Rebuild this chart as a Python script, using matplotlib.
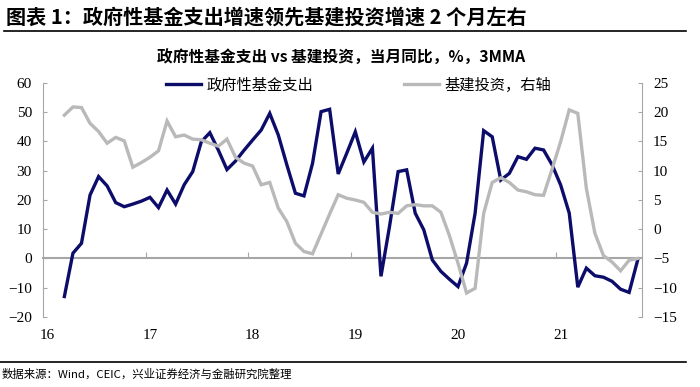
import numpy as np
import matplotlib
matplotlib.use("Agg")
import matplotlib.pyplot as plt
from matplotlib.lines import Line2D

plt.rcParams['font.family'] = ['Noto Sans CJK SC', 'DejaVu Sans']

# 月份序号: 0 = 2016年1月, 数据从2016年3月到2021年10月 (3MMA)
start_month = 2
year_labels = ['16', '17', '18', '19', '20', '21']

# 政府性基金支出 当月同比 3MMA (%)，左轴
fund = [-13.0, 1.8, 5.2, 21.7, 28.0, 24.8, 19.1, 17.7, 18.6, 19.6,
        20.9, 17.4, 23.4, 18.6, 25.2, 29.7, 39.9, 43.0, 37.0, 30.4,
        33.3, 37.0, 40.5, 43.9, 49.6, 42.2, 32.0, 22.3, 21.4, 32.5,
        50.2, 51.0, 28.9, 36.0, 43.3, 33.0, 37.7, -6.1, 11.0, 29.7,
        30.3, 15.5, 9.8, -0.5, -4.4, -7.1, -9.6, -1.6, 15.5, 43.7,
        41.6, 26.8, 29.1, 34.8, 33.9, 37.7, 37.1, 32.0, 25.1, 15.5,
        -9.8, -3.3, -5.9, -6.4, -7.8, -10.5, -11.6, -0.5]

# 基建投资 当月同比 3MMA (%)，右轴
infra = [19.5, 20.9, 20.8, 18.1, 16.7, 14.7, 15.7, 15.1, 10.6, 11.4,
         12.3, 13.4, 18.5, 15.8, 16.1, 15.4, 15.3, 14.7, 14.2, 15.4,
         12.3, 11.3, 10.8, 7.6, 8.0, 3.6, 1.3, -2.4, -3.8, -4.2,
         -0.8, 2.6, 5.9, 5.3, 5.0, 4.6, 2.9, 2.6, 2.9, 2.7,
         4.0, 4.2, 4.0, 4.0, 2.9, -1.1, -5.8, -10.9, -10.1, 2.7,
         8.0, 8.8, 8.0, 6.7, 6.4, 5.9, 5.8, 10.3, 15.0, 20.4,
         19.8, 7.0, -0.7, -4.5, -5.6, -7.1, -5.3, -5.0]

x = np.arange(len(fund)) + start_month + 0.5
year_pos = np.arange(len(year_labels)) * 12

GRAY_AX = '#a6a6a6'
NAVY = '#0c0c6a'
LGRAY = '#b9b9b9'

fig = plt.figure(figsize=(7, 3.87), dpi=100)
ax = fig.add_axes([0.0614, 0.1809, 0.8557, 0.6047])
ax2 = ax.twinx()

h1, = ax.plot(x, fund, color=NAVY, lw=2.4, solid_joinstyle='miter')
h2, = ax2.plot(x, infra, color=LGRAY, lw=2.4, solid_joinstyle='miter')

ax.set_xlim(0, 70)
ax.set_ylim(-20, 60)
ax.set_yticks(range(-20, 61, 10))
ax2.set_ylim(-15, 25)
ax2.set_yticks(range(-15, 26, 5))

for a in (ax, ax2):
    a.spines['top'].set_visible(False)
    a.spines['bottom'].set_visible(False)
ax.spines['right'].set_visible(False)
ax2.spines['left'].set_visible(False)
ax.spines['left'].set_color(GRAY_AX)
ax2.spines['right'].set_color(GRAY_AX)

ax.tick_params(axis='y', direction='in', length=3, color=GRAY_AX, labelsize=11, pad=8)
ax2.tick_params(axis='y', direction='in', length=3, color=GRAY_AX, labelsize=11, pad=8)
ax.set_xticks(year_pos + 0.5, year_labels)
ax.tick_params(axis='x', length=0, labelsize=11, pad=9)

for lbl in ax.get_xticklabels() + ax.get_yticklabels() + ax2.get_yticklabels():
    lbl.set_fontfamily('Liberation Serif')

# 零轴及年份刻度
sec = ax.secondary_xaxis(0.25)
sec.set_xticks(year_pos[1:])
sec.tick_params(direction='in', length=4, color=GRAY_AX, labelbottom=False)
sec.spines['bottom'].set_color(GRAY_AX)
sec.spines['bottom'].set_linewidth(1.5)

ax2.legend([h1, h2], ['政府性基金支出', '基建投资，右轴'], loc='center',
           bbox_to_anchor=(0.527, 0.99), ncol=2, frameon=False, fontsize=11,
           handlelength=2.3, handletextpad=0.35, columnspacing=5.9)

fig.text(0.008, 1 - 17 / 387, '图表 1：政府性基金支出增速领先基建投资增速 2 个月左右',
         fontsize=14.5, fontweight='bold', ha='left', va='center')
fig.add_artist(Line2D([0.005, 0.98], [1 - 31 / 387] * 2, transform=fig.transFigure,
                      color='black', lw=1.2))
fig.text(0.487, 1 - 58 / 387, '政府性基金支出 vs 基建投资，当月同比，%，3MMA',
         fontsize=11.3, fontweight='bold', ha='center', va='center')
fig.add_artist(Line2D([0.0, 0.98], [1 - 362 / 387] * 2, transform=fig.transFigure,
                      color='black', lw=1.2))
fig.text(0.002, 1 - 374 / 387, '数据来源：Wind，CEIC，兴业证券经济与金融研究院整理',
         fontsize=8.2, ha='left', va='center')

fig.savefig('out.png', dpi=100)
